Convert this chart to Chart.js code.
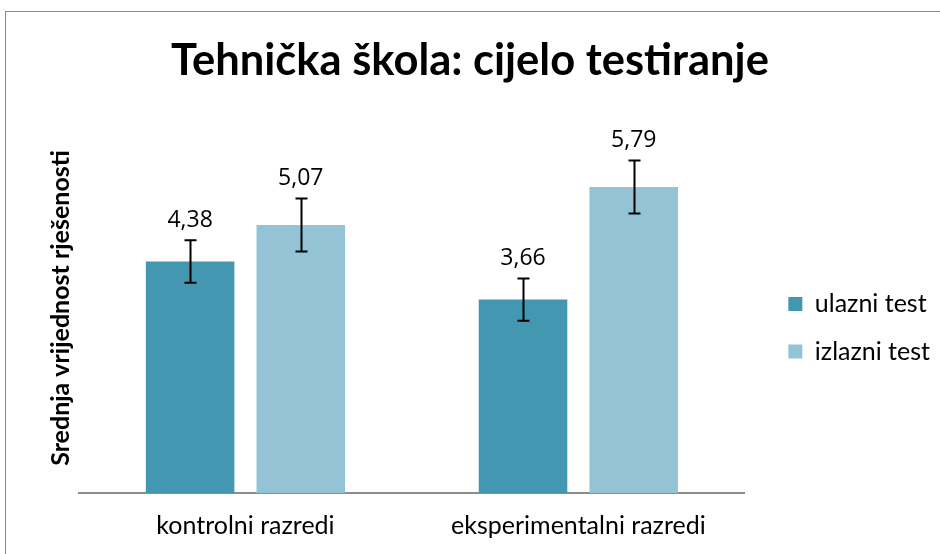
<!DOCTYPE html>
<html>
<head>
<meta charset="utf-8">
<script src="https://cdn.jsdelivr.net/npm/chart.js@4/dist/chart.umd.min.js"></script>
<style>
  html, body { margin: 0; padding: 0; background: #ffffff; }
  #wrap { width: 940px; height: 554px; position: relative; }
</style>
</head>
<body>
<div id="wrap"><canvas id="c" width="940" height="554"></canvas></div>
<script>
// ---- data ----
const categories = ['kontrolni razredi', 'eksperimentalni razredi'];
const seriesNames = ['ulazni test', 'izlazni test'];
const ulazniValues = [4.38, 3.66];
const izlazniValues = [5.07, 5.79];
const ulazniErrors = [0.40, 0.40];
const izlazniErrors = [0.50, 0.50];
const chartTitle = 'Tehnička škola: cijelo testiranje';
const yAxisTitle = 'Srednja vrijednost rješenosti';

const errorsByDataset = [ulazniErrors, izlazniErrors];

const framePlugin = {
  id: 'frame',
  beforeDraw(chart) {
    const ctx = chart.ctx;
    ctx.save();
    ctx.fillStyle = '#ffffff';
    ctx.fillRect(0, 0, chart.width, chart.height);
    ctx.strokeStyle = '#898989';
    ctx.lineWidth = 1;
    ctx.strokeRect(5.5, 11.5, 2000, 2000);
    ctx.restore();
  }
};

const errorBarPlugin = {
  id: 'errorBars',
  afterDatasetsDraw(chart) {
    const ctx = chart.ctx;
    const y = chart.scales.y;
    ctx.save();
    chart.data.datasets.forEach((ds, di) => {
      const meta = chart.getDatasetMeta(di);
      meta.data.forEach((bar, i) => {
        const v = ds.data[i];
        const e = errorsByDataset[di][i];
        const yTop = y.getPixelForValue(v + e);
        const yBot = y.getPixelForValue(v - e);
        const x = Math.round(bar.x) + 0.5;
        ctx.strokeStyle = '#000000';
        ctx.lineWidth = 2;
        ctx.beginPath();
        ctx.moveTo(x, yTop);
        ctx.lineTo(x, yBot);
        ctx.moveTo(x - 6, yTop);
        ctx.lineTo(x + 6, yTop);
        ctx.moveTo(x - 6, yBot);
        ctx.lineTo(x + 6, yBot);
        ctx.stroke();
        // value label above the error bar
        ctx.fillStyle = '#000000';
        ctx.font = '23px "Open Sans"';
        ctx.textAlign = 'center';
        ctx.textBaseline = 'middle';
        ctx.fillText(v.toFixed(2).replace('.', ','), bar.x, yTop - 20);
      });
    });
    ctx.restore();
  }
};

new Chart(document.getElementById('c'), {
  type: 'bar',
  data: {
    labels: categories,
    datasets: [
      { label: seriesNames[0], data: ulazniValues, backgroundColor: '#4397B0', borderWidth: 0,
        categoryPercentage: 0.665, barPercentage: 0.8 },
      { label: seriesNames[1], data: izlazniValues, backgroundColor: '#93C3D5', borderWidth: 0,
        categoryPercentage: 0.665, barPercentage: 0.8 }
    ]
  },
  options: {
    responsive: false,
    animation: false,
    layout: { padding: { left: 0, right: 0, top: 0, bottom: 0 } },
    scales: {
      x: {
        grid: { display: false, drawTicks: false },
        border: { display: true, color: '#8c8c8c', width: 2 },
        ticks: { color: '#000000', padding: 18, font: { family: 'Lato', size: 25 } },
        afterFit(scale) { scale.height = 61; }
      },
      y: {
        min: 0, max: 7,
        grid: { display: false, drawTicks: false },
        border: { display: false },
        ticks: { display: false },
        title: {
          display: true, text: yAxisTitle, color: '#000000',
          font: { family: 'Lato', size: 25, weight: 'bold' },
          padding: { top: 46, bottom: 3 }
        }
      },
      y2: {
        position: 'right',
        display: true,
        grid: { display: false, drawTicks: false },
        border: { display: false },
        ticks: { display: false },
        afterFit(scale) { scale.width = 21; }
      }
    },
    plugins: {
      title: {
        display: true, text: chartTitle, color: '#000000',
        font: { family: 'Lato', size: 43.5, weight: 'bold' },
        padding: { top: 34.9, bottom: 35.9 }
      },
      legend: {
        position: 'right',
        fullSize: false,
        maxWidth: 260,
        title: { display: true, text: '', padding: 0, font: { size: 32.9 } },
        labels: {
          boxWidth: 14, boxHeight: 14, padding: 22.5, color: '#000000',
          font: { family: 'Lato', size: 25 }
        }
      },
      tooltip: { enabled: false }
    }
  },
  plugins: [framePlugin, errorBarPlugin]
});
</script>
</body>
</html>
